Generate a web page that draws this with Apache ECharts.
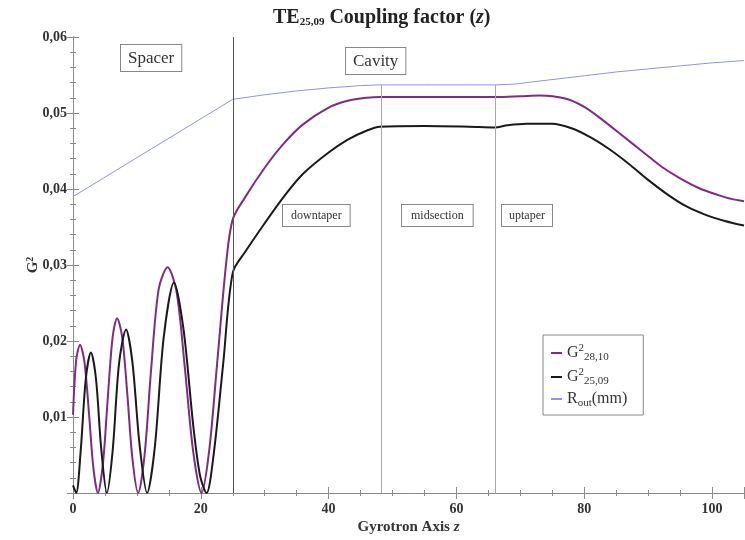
<!DOCTYPE html>
<html>
<head>
<meta charset="utf-8">
<script src="https://cdn.jsdelivr.net/npm/echarts@6/dist/echarts.min.js"></script>
<style>
  html, body { margin: 0; padding: 0; background: #fff; }
  #chart { width: 745px; height: 540px; }
</style>
</head>
<body>
<div id="chart"></div>
<script>
// G^2 for TE28,10 (purple)
const z2810 = [0, 0.5, 1.1, 1.8, 2.5, 3.2, 3.9, 4.7, 5.4, 6.2, 6.9, 7.7, 8.5, 9.3, 10.2, 11.2, 12.2, 13.4, 14.8, 16.2, 17.5, 18.8, 20.1, 21.3, 22.6, 24.0, 25.0,
  27, 30, 33, 36, 40, 43, 46, 48, 55, 60, 66, 70, 73, 77, 80, 83, 86, 89, 92, 95, 98, 101, 103, 105]
const g2810 = [0.0103, 0.0175, 0.0195, 0.0172, 0.0105, 0.0032, 0.0, 0.0040, 0.0120, 0.0205, 0.0230, 0.0205, 0.0130, 0.0045, 0.0, 0.0050, 0.0160, 0.0268, 0.0297, 0.0265, 0.0165, 0.0055, 0.0, 0.0055, 0.0175, 0.0305, 0.0360,
  0.0390, 0.0428, 0.0460, 0.0485, 0.0507, 0.0516, 0.0520, 0.0521, 0.0521, 0.0521, 0.0521, 0.0522, 0.0523, 0.0519, 0.0508, 0.0490, 0.0470, 0.0450, 0.0430, 0.0414, 0.0401, 0.0392, 0.0387, 0.0384]

// G^2 for TE25,09 (black)
const z2509 = [0, 0.5, 1.2, 2.0, 2.8, 3.6, 4.4, 5.3, 6.2, 7.2, 8.3, 9.3, 10.4, 11.6, 12.8, 14.2, 15.8, 17.3, 18.8, 19.9, 20.9, 22.0, 23.5, 25.0,
  27, 30, 33, 36, 40, 43, 46, 48, 55, 62, 66, 68, 71, 75, 78, 81, 84, 87, 90, 93, 96, 99, 102, 105]
const g2509 = [0.0010, 0.0, 0.0055, 0.0150, 0.0185, 0.0150, 0.0060, 0.0, 0.0055, 0.0170, 0.0215, 0.0172, 0.0065, 0.0, 0.0060, 0.0205, 0.0277, 0.0215, 0.0090, 0.0022, 0.0, 0.0050, 0.0170, 0.0290,
  0.0318, 0.0355, 0.0390, 0.0420, 0.0448, 0.0465, 0.0477, 0.0482, 0.0483, 0.0482, 0.0481, 0.0484, 0.0486, 0.0486, 0.0480, 0.0468, 0.0452, 0.0433, 0.0412, 0.0393, 0.0377, 0.0366, 0.0358, 0.0352]

// R_out (mm), scaled onto the same axis
const zRout = [0, 25, 30, 35, 40, 45, 48, 55, 62, 66, 69, 72, 76, 80, 85, 90, 95, 100, 105]
const rout = [0.0390, 0.0518, 0.0524, 0.0529, 0.0533, 0.0536, 0.0537, 0.0537, 0.0537, 0.0537, 0.0538, 0.0541, 0.0545, 0.0549, 0.0554, 0.0558, 0.0562, 0.0566, 0.0569]

// section boundaries: spacer end, downtaper end, midsection end
const bounds = [25, 48.2, 66]
const boundTop = 0.0537

const pairs = (xs, ys) => xs.map((x, i) => [x, ys[i]])

const SERIF = 'Liberation Serif'
const frame = '#8a8a8a'

const chart = echarts.init(document.getElementById('chart'))

const hiddenAxis = {
  axisLine: { show: true, lineStyle: { color: frame } },
  axisTick: { show: true, inside: true, length: 6, lineStyle: { color: frame } },
  minorTick: { show: true, length: 3, lineStyle: { color: frame } },
  axisLabel: { show: false },
  splitLine: { show: false },
}

const boxText = (text, x, y, size, pad) => ({
  type: 'text',
  x,
  y,
  silent: true,
  style: {
    text,
    font: `${size}px "${SERIF}"`,
    fill: '#333',
    backgroundColor: '#fff',
    borderColor: '#888',
    borderWidth: 1,
    padding: pad,
  },
})

chart.setOption({
  animation: false,
  title: {
    text: '{b|TE}{sub|25,09}{n| Coupling factor (}{i|z}{n|)}',
    left: 268,
    top: 3,
    textStyle: {
      rich: {
        b: { fontFamily: SERIF, fontSize: 20, fontWeight: 'bold', color: '#222' },
        sub: { fontFamily: SERIF, fontSize: 11, fontWeight: 'bold', color: '#222', padding: [8, 0, 0, 0] },
        n: { fontFamily: SERIF, fontSize: 20, color: '#222' },
        i: { fontFamily: SERIF, fontSize: 20, fontStyle: 'italic', color: '#222' },
      },
    },
  },
  legend: {
    orient: 'vertical',
    left: 543,
    top: 335,
    padding: [8, 16, 6, 8],
    itemGap: 4,
    itemWidth: 11,
    itemHeight: 2,
    icon: 'rect',
    borderColor: '#888',
    borderWidth: 1,
    backgroundColor: '#fff',
    data: ['g2810', 'g2509', 'rout'],
    formatter: (name) => {
      if (name === 'g2810') return '{t|G}{sup|2}{sub|28,10}'
      if (name === 'g2509') return '{t|G}{sup|2}{sub|25,09}'
      return '{t|R}{sub|out}{t|(mm)}'
    },
    textStyle: {
      color: '#333',
      rich: {
        t: { fontFamily: SERIF, fontSize: 16, color: '#333', lineHeight: 20 },
        sup: { fontFamily: SERIF, fontSize: 11, color: '#333', verticalAlign: 'top', lineHeight: 20, padding: [0, 0, 7, 0] },
        sub: { fontFamily: SERIF, fontSize: 11, color: '#333', verticalAlign: 'bottom', lineHeight: 20, padding: [7, 0, 0, 0] },
      },
    },
  },
  grid: { left: 73, right: 1, top: 37, bottom: 47, outerBoundsMode: 'none' },
  xAxis: [
    {
      type: 'value',
      min: 0,
      max: 105,
      interval: 20,
      name: '{a|Gyrotron Axis }{i|z}',
      nameLocation: 'middle',
      nameGap: 27,
      nameMoveOverlap: false,
      nameTextStyle: {
        rich: {
          a: { fontFamily: SERIF, fontSize: 15, fontWeight: 'bold', color: '#333' },
          i: { fontFamily: SERIF, fontSize: 15, fontWeight: 'bold', fontStyle: 'italic', color: '#333' },
        },
      },
      axisLine: { show: true, lineStyle: { color: frame } },
      axisTick: { show: true, inside: true, length: 6, lineStyle: { color: frame } },
      minorTick: { show: true, splitNumber: 4, length: 3, lineStyle: { color: frame } },
      axisLabel: {
        fontFamily: SERIF,
        fontSize: 14,
        fontWeight: 'bold',
        color: '#333',
        margin: 9,
        formatter: (v) => (v > 100 ? '' : String(v)),
      },
      splitLine: { show: false },
    },
    { type: 'value', position: 'top', min: 0, max: 105, interval: 20, ...hiddenAxis, minorTick: { ...hiddenAxis.minorTick, splitNumber: 4 } },
  ],
  yAxis: [
    {
      type: 'value',
      min: 0,
      max: 0.06,
      interval: 0.01,
      name: '{g|G}{s|2}',
      nameLocation: 'middle',
      nameGap: 32,
      nameRotate: 90,
      nameMoveOverlap: false,
      nameTextStyle: {
        rich: {
          g: { fontFamily: SERIF, fontSize: 15, fontWeight: 'bold', color: '#333' },
          s: { fontFamily: SERIF, fontSize: 10, fontWeight: 'bold', color: '#333', padding: [0, 0, 6, 0] },
        },
      },
      axisLine: { show: true, lineStyle: { color: frame } },
      axisTick: { show: true, inside: true, length: 6, lineStyle: { color: frame } },
      minorTick: { show: true, splitNumber: 5, length: 3, lineStyle: { color: frame } },
      axisLabel: {
        fontFamily: SERIF,
        fontSize: 14,
        fontWeight: 'bold',
        color: '#333',
        margin: 6,
        formatter: (v) => (v === 0 ? '' : v.toFixed(2).replace('.', ',')),
      },
      splitLine: { show: false },
    },
    { type: 'value', position: 'right', min: 0, max: 0.06, interval: 0.01, ...hiddenAxis, minorTick: { ...hiddenAxis.minorTick, splitNumber: 5 } },
  ],
  graphic: [
    boxText('Spacer', 121, 45, 17, [5, 7, 4, 7]),
    boxText('Cavity', 346, 48, 17, [5, 7, 4, 7]),
    boxText('downtaper', 283, 205, 12, [5, 8, 4, 8]),
    boxText('midsection', 402, 205, 12, [5, 9, 4, 9]),
    boxText('uptaper', 502, 205, 12, [5, 7, 4, 7]),
  ],
  series: [
    {
      name: 'rout',
      type: 'line',
      data: pairs(zRout, rout),
      showSymbol: false,
      smooth: false,
      lineStyle: { color: '#9090f0', width: 1 },
      itemStyle: { color: '#9090f0' },
      z: 2,
      markLine: {
        silent: true,
        symbol: 'none',
        label: { show: false },
        animation: false,
        data: [
          [{ coord: [bounds[0], 0] }, { coord: [bounds[0], 0.06] }],
          [{ coord: [bounds[1], 0] }, { coord: [bounds[1], boundTop] }],
          [{ coord: [bounds[2], 0] }, { coord: [bounds[2], boundTop] }],
        ].map((d, i) => [
          { ...d[0], lineStyle: { color: i === 0 ? '#555' : '#aaa', width: 1, type: 'solid' } },
          d[1],
        ]),
      },
    },
    {
      name: 'g2810',
      type: 'line',
      data: pairs(z2810, g2810),
      showSymbol: false,
      smooth: 0.3,
      lineStyle: { color: '#7d2e80', width: 2 },
      itemStyle: { color: '#7d2e80' },
      z: 3,
    },
    {
      name: 'g2509',
      type: 'line',
      data: pairs(z2509, g2509),
      showSymbol: false,
      smooth: 0.3,
      lineStyle: { color: '#1a1a1a', width: 2 },
      itemStyle: { color: '#1a1a1a' },
      z: 4,
    },
  ],
})
</script>
</body>
</html>
